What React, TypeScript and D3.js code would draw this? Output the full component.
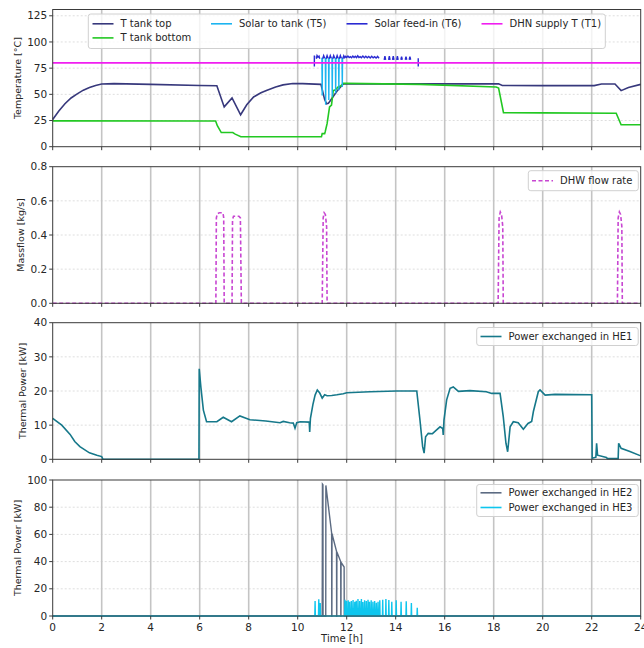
import React from "react";
import * as d3 from "d3";

type Pt = [number, number];

// time axis
const hourTicks = [0, 2, 4, 6, 8, 10, 12, 14, 16, 18, 20, 22, 24];

// panel 1: temperatures [°C]
const tankTop: Pt[] = [
  [0, 26], [0.25, 34], [0.5, 41], [0.75, 46.5], [1.0, 50.5], [1.25, 54], [1.5, 56.5],
  [1.75, 58.5], [2.0, 59.8], [2.5, 60.2], [4, 59.5], [6, 58.5], [6.7, 58.2], [7.0, 38],
  [7.32, 46.5], [7.67, 30.5], [7.92, 40], [8.2, 47.5], [8.5, 51.5], [8.75, 54], [9.1, 57],
  [9.4, 59], [9.8, 60.3], [10.2, 60.2], [10.95, 59.5], [11.1, 45], [11.18, 41], [11.25, 41.5],
  [11.3, 43], [11.45, 48], [11.6, 53], [11.75, 57], [11.86, 60], [12, 60], [15, 60],
  [18.2, 60], [18.35, 58.5], [20, 58.3], [22.1, 58.3], [22.4, 59.8], [22.95, 59.8],
  [23.2, 53.5], [23.5, 56.5], [24, 59.5],
];
const tankBottom: Pt[] = [
  [0, 24.7], [6.65, 24.5], [6.72, 20], [6.88, 13.5], [7.35, 13.5], [7.45, 12], [7.68, 9.5],
  [10.97, 9.5], [11.0, 12.5], [11.1, 12.5], [11.12, 14], [11.2, 22], [11.3, 38], [11.38, 39.8],
  [11.45, 53.5], [11.55, 54.5], [11.65, 57], [11.75, 58], [11.86, 60.5], [12, 60.5],
  [15, 59.5], [18.1, 57], [18.2, 56], [18.4, 32.5], [20, 32.3], [23.0, 32], [23.2, 21], [24, 21],
];
const solarToTank: Pt[][] = [
  [[10.988, 85], [11.0, 49], [11.012, 85]],
  [[11.128, 85], [11.14, 40], [11.152, 85]],
  [[11.258, 85], [11.27, 44.5], [11.282, 85]],
  [[11.398, 85], [11.41, 47.7], [11.422, 85]],
  [[11.538, 85], [11.55, 51], [11.562, 85]],
  [[11.668, 85], [11.68, 54], [11.692, 85]],
  [[11.808, 85], [11.82, 57], [11.832, 85]],
];
const solarFeedIn: Pt[][] = [
  [[10.68, 76.5], [10.68, 87], [10.7, 85]],
  [[10.76, 84], [10.79, 87], [10.83, 85.5], [10.87, 86.5], [10.9, 84]],
  [[11.02, 84], [11.06, 87], [11.1, 84.5]],
  [[11.16, 84], [11.2, 87], [11.24, 84.5]],
  [[11.29, 84], [11.33, 87], [11.37, 84.5]],
  [[11.43, 84], [11.47, 87], [11.51, 84.5]],
  [[11.57, 84], [11.61, 87], [11.65, 84.5]],
  [[11.7, 84], [11.74, 87], [11.78, 84.5]],
  [
    [11.84, 84], [11.88, 86.8], [11.92, 85], [11.96, 86.2], [12.0, 85.2], [12.05, 86.5],
    [12.1, 85.2], [12.15, 86], [12.2, 85], [12.25, 86.5], [12.3, 85.1], [12.35, 86.3],
    [12.4, 85], [12.45, 86.8], [12.5, 85.2], [12.55, 86], [12.6, 85], [12.66, 86.5],
    [12.72, 85], [12.78, 86.4], [12.84, 85], [12.9, 86.2], [12.96, 84.8], [13.02, 86.4],
    [13.08, 84.8], [13.14, 86], [13.2, 84.6], [13.26, 86.2], [13.32, 84.5],
  ],
  [[13.53, 83], [13.56, 86.5], [13.59, 83]],
  [[13.71, 83], [13.74, 86.5], [13.77, 83]],
  [[13.87, 83], [13.9, 86.5], [13.93, 83]],
  [[14.04, 83], [14.07, 86.5], [14.1, 83]],
  [[14.21, 83], [14.24, 86], [14.27, 83]],
  [[14.39, 83], [14.42, 86], [14.45, 83]],
  [[14.55, 83], [14.58, 86], [14.61, 83]],
  [[14.92, 84.5], [14.92, 76.5]],
];
const dhnSupply: Pt[] = [[0, 80], [24, 80]];

// panel 2: DHW mass flow [kg/s]
const dhwFlow: Pt[] = [
  [0, 0], [6.66, 0], [6.68, 0.5], [6.72, 0.525], [6.8, 0.53], [6.95, 0.53], [6.98, 0.5], [7.0, 0],
  [7.32, 0], [7.34, 0.49], [7.38, 0.51], [7.6, 0.51], [7.66, 0.5], [7.7, 0],
  [11.0, 0], [11.04, 0.5], [11.08, 0.53], [11.13, 0.52], [11.18, 0.45], [11.2, 0],
  [18.18, 0], [18.22, 0.5], [18.27, 0.535], [18.32, 0.52], [18.37, 0.45], [18.39, 0],
  [23.05, 0], [23.08, 0.5], [23.13, 0.535], [23.18, 0.52], [23.23, 0.45], [23.25, 0], [24, 0],
];

// panel 3: HE1 power [kW]
const he1Power: Pt[] = [
  [0, 12], [0.37, 10], [0.71, 7.3], [0.9, 5.2], [1.11, 3.7], [1.5, 1.9], [1.8, 1.2], [2.0, 0.8],
  [2.05, 0], [5.97, 0], [5.98, 26.5], [6.05, 21], [6.15, 14.4], [6.28, 11], [6.7, 11],
  [6.96, 12.3], [7.3, 11], [7.64, 12.7], [8.05, 11.6], [8.7, 11.2], [9.28, 10.7], [9.41, 11.1],
  [9.67, 10.7], [9.82, 10.6], [9.89, 9.1], [9.96, 10.7], [10.1, 11], [10.47, 10.9], [10.49, 8],
  [10.52, 12], [10.62, 16], [10.71, 18.8], [10.8, 20.3], [10.9, 19.4], [11.0, 17.9],
  [11.1, 18.9], [11.2, 18.6], [11.39, 18.7], [11.6, 18.9], [11.86, 19.2], [12, 19.5],
  [12.95, 19.8], [14.04, 20], [14.86, 20], [14.99, 11.5], [15.1, 3.7], [15.16, 1.8],
  [15.22, 6.6], [15.33, 7.6], [15.5, 7.5], [15.67, 8.6], [15.81, 9.5], [15.92, 9.0],
  [15.94, 7.1], [15.97, 11.5], [16.08, 17.4], [16.22, 20.8], [16.35, 21.2], [16.56, 19.9],
  [17.03, 20.1], [17.7, 19.8], [17.92, 19.3], [18.26, 19.3], [18.39, 12.5], [18.5, 4.7],
  [18.57, 2.2], [18.67, 9.5], [18.8, 11], [19.0, 10.7], [19.21, 8.8], [19.4, 10.5],
  [19.55, 11.1], [19.62, 14], [19.82, 19.8], [19.89, 20.3], [20.1, 18.8], [20.5, 19],
  [22.0, 18.9], [22.02, 0.3], [22.17, 0.6], [22.2, 4.7], [22.24, 1.2], [22.6, 0.5],
  [22.65, 0.2], [23.08, 0.2], [23.1, 4.7], [23.2, 3.2], [23.56, 2.3], [24, 1.0],
];

// panel 4: HE2 / HE3 power [kW]
const he2Power: Pt[] = [
  [0, 0], [11.0, 0], [11.01, 97], [11.03, 96.5], [11.035, 0], [11.145, 0], [11.15, 96],
  [11.385, 61], [11.39, 0], [11.395, 0], [11.4, 60.5], [11.585, 47.5], [11.59, 0], [11.595, 0],
  [11.6, 47], [11.755, 40], [11.76, 0], [11.765, 0], [11.77, 39.5], [11.895, 36], [11.9, 0],
  [24, 0],
];
const he3Spikes: Pt[] = [
  [10.71, 11], [10.86, 12.3], [10.92, 9.5],
  [11.93, 12], [11.99, 11], [12.06, 11.5], [12.12, 10.5], [12.19, 11], [12.26, 11.8],
  [12.33, 10.5], [12.39, 11.2], [12.46, 12.5], [12.53, 11], [12.6, 12.5], [12.66, 10.2],
  [12.73, 11.5], [12.8, 11], [12.87, 12], [12.93, 10.5], [13.0, 11.5], [13.07, 10.5],
  [13.14, 11], [13.21, 9.8], [13.28, 10.5], [13.35, 11.5],
  [13.47, 12], [13.6, 12.5], [13.72, 11.8], [13.84, 10.5], [14.02, 11.5], [14.22, 10.5],
  [14.43, 10.8], [14.64, 9.5], [14.88, 6],
];

const tempTicks = [0, 25, 50, 75, 100, 125];
const flowTicks = [0, 0.2, 0.4, 0.6, 0.8];
const he1Ticks = [0, 10, 20, 30, 40];
const he23Ticks = [0, 20, 40, 60, 80, 100];

const FONT = "DejaVu Sans, sans-serif";
const X0 = 52.7;
const X1 = 640.7;

const x = d3.scaleLinear().domain([0, 24]).range([X0, X1]);

const he3Power: Pt[] = [[0, 0]];
he3Spikes.forEach(([t, h]) => {
  he3Power.push([t - 0.012, 0], [t, h], [t + 0.012, 0]);
});
he3Power.push([24, 0]);

interface PanelSpec {
  top: number;
  bottom: number;
  yMax: number;
  ticks: number[];
  fmt: (d: number) => string;
  label: string;
  labelX: number;
}

const panels: PanelSpec[] = [
  { top: 9.5, bottom: 146.7, yMax: 131, ticks: tempTicks, fmt: (d) => String(d), label: "Temperature [°C]", labelX: 18 },
  { top: 166.7, bottom: 303.3, yMax: 0.8, ticks: flowTicks, fmt: (d) => d.toFixed(1), label: "Massflow [kg/s]", labelX: 20.5 },
  { top: 322.7, bottom: 459.3, yMax: 40, ticks: he1Ticks, fmt: (d) => String(d), label: "Thermal Power [kW]", labelX: 23 },
  { top: 480, bottom: 616, yMax: 100, ticks: he23Ticks, fmt: (d) => String(d), label: "Thermal Power [kW]", labelX: 18 },
];

const yScale = (p: PanelSpec) => d3.scaleLinear().domain([0, p.yMax]).range([p.bottom, p.top]);

const mkLine = (y: d3.ScaleLinear<number, number>) =>
  d3.line<Pt>().x((d) => x(d[0])).y((d) => y(d[1]));

interface LegendEntry {
  label: string;
  color: string;
  dash?: string;
  hx: number;
  cy: number;
}

const Legend: React.FC<{ x: number; y: number; w: number; h: number; entries: LegendEntry[] }> = ({ x: lx, y: ly, w, h, entries }) => (
  <g>
    <rect x={lx} y={ly} width={w} height={h} rx={2.5} fill="white" fillOpacity={0.8} stroke="#d0d0d0" strokeWidth={1} />
    {entries.map((e) => (
      <g key={e.label}>
        <line x1={e.hx} x2={e.hx + 21} y1={e.cy} y2={e.cy} stroke={e.color} strokeWidth={1.6} strokeDasharray={e.dash} />
        <text x={e.hx + 28} y={e.cy} dy="0.35em" fontSize={10} fontFamily={FONT} fill="#262626">
          {e.label}
        </text>
      </g>
    ))}
  </g>
);

const Axes: React.FC<{ p: PanelSpec; showX: boolean; children?: React.ReactNode }> = ({ p, showX, children }) => {
  const y = yScale(p);
  const cy = (p.top + p.bottom) / 2;
  return (
    <g>
      {/* grid */}
      {p.ticks.slice(1, -1).map((t) => (
        <line key={"h" + t} x1={X0} x2={X1} y1={y(t)} y2={y(t)} stroke="#dedede" strokeWidth={1} strokeDasharray="2,2" />
      ))}
      {p.ticks[p.ticks.length - 1] < p.yMax && (
        <line x1={X0} x2={X1} y1={y(p.ticks[p.ticks.length - 1])} y2={y(p.ticks[p.ticks.length - 1])} stroke="#dedede" strokeWidth={1} strokeDasharray="2,2" />
      )}
      {hourTicks.slice(1, -1).map((t) => (
        <line key={"v" + t} x1={x(t)} x2={x(t)} y1={p.top} y2={p.bottom} stroke="#c4c4c4" strokeWidth={1.6} />
      ))}
      {children}
      {/* frame */}
      <rect x={X0} y={p.top} width={X1 - X0} height={p.bottom - p.top} fill="none" stroke="#3a3a3a" strokeWidth={1} />
      {/* y ticks */}
      {p.ticks.map((t) => (
        <g key={"yt" + t}>
          <line x1={X0 - 3.5} x2={X0} y1={y(t)} y2={y(t)} stroke="#3a3a3a" strokeWidth={1} />
          <text x={X0 - 5.5} y={y(t)} dy="0.35em" textAnchor="end" fontSize={10.5} fontFamily={FONT} fill="#262626">
            {p.fmt(t)}
          </text>
        </g>
      ))}
      {/* x ticks */}
      {hourTicks.map((t) => (
        <g key={"xt" + t}>
          <line x1={x(t)} x2={x(t)} y1={p.bottom} y2={p.bottom + 3.5} stroke="#3a3a3a" strokeWidth={1} />
          {showX && (
            <text x={x(t)} y={p.bottom + 11} textAnchor="middle" dy="0.35em" fontSize={10.5} fontFamily={FONT} fill="#262626">
              {t}
            </text>
          )}
        </g>
      ))}
      <text
        transform={`translate(${p.labelX},${cy}) rotate(-90)`}
        textAnchor="middle"
        dy="0.35em"
        fontSize={9.5}
        fontFamily={FONT}
        fill="#262626"
      >
        {p.label}
      </text>
    </g>
  );
};

const App: React.FC = () => {
  const [p1, p2, p3, p4] = panels;
  const y1 = yScale(p1);
  const y2 = yScale(p2);
  const y3 = yScale(p3);
  const y4 = yScale(p4);
  const l1 = mkLine(y1);
  const l2 = mkLine(y2);
  const l3 = mkLine(y3);
  const l4 = mkLine(y4);

  const c = {
    top: "#37387c",
    bottom: "#22c822",
    t5: "#1cb4f0",
    t6: "#2a2ad2",
    t1: "#f01ef0",
    dhw: "#c846d2",
    he1: "#16788a",
    he2: "#5c6b82",
    he3: "#0ec6ee",
  };

  return (
    <svg width={644} height={648} style={{ position: "absolute", left: 0, top: 0, background: "white" }}>
      <Axes p={p1} showX={false}>
        <path d={l1(tankTop) ?? ""} fill="none" stroke={c.top} strokeWidth={1.6} />
        <path d={l1(tankBottom) ?? ""} fill="none" stroke={c.bottom} strokeWidth={1.6} />
        {solarToTank.map((s, i) => (
          <path key={"t5" + i} d={l1(s) ?? ""} fill="none" stroke={c.t5} strokeWidth={1.4} />
        ))}
        {solarFeedIn.map((s, i) => (
          <path key={"t6" + i} d={l1(s) ?? ""} fill="none" stroke={c.t6} strokeWidth={1.4} />
        ))}
        <path d={l1(dhnSupply) ?? ""} fill="none" stroke={c.t1} strokeWidth={1.6} />
      </Axes>
      <Axes p={p2} showX={false}>
        <path d={l2(dhwFlow) ?? ""} fill="none" stroke={c.dhw} strokeWidth={1.6} strokeDasharray="4,2.5" />
      </Axes>
      <Axes p={p3} showX={false}>
        <path d={l3(he1Power) ?? ""} fill="none" stroke={c.he1} strokeWidth={1.6} />
      </Axes>
      <Axes p={p4} showX={true}>
        <path d={l4(he2Power) ?? ""} fill="none" stroke={c.he2} strokeWidth={1.4} />
        <path d={l4(he3Power) ?? ""} fill="none" stroke={c.he3} strokeWidth={1.4} />
      </Axes>

      <Legend
        x={88.3}
        y={14}
        w={517}
        h={34.5}
        entries={[
          { label: "T tank top", color: c.top, hx: 92.5, cy: 23.8 },
          { label: "T tank bottom", color: c.bottom, hx: 92.5, cy: 37.9 },
          { label: "Solar to tank (T5)", color: c.t5, hx: 211, cy: 23.8 },
          { label: "Solar feed-in (T6)", color: c.t6, hx: 346.5, cy: 23.8 },
          { label: "DHN supply T (T1)", color: c.t1, hx: 481.5, cy: 23.8 },
        ]}
      />
      <Legend x={528.3} y={170.7} w={110} h={20} entries={[{ label: "DHW flow rate", color: c.dhw, dash: "4,2.5", hx: 532, cy: 180.7 }]} />
      <Legend x={476.7} y={327.5} w={161.5} h={18} entries={[{ label: "Power exchanged in HE1", color: c.he1, hx: 480.5, cy: 336.5 }]} />
      <Legend
        x={476.7}
        y={484.5}
        w={161.5}
        h={32}
        entries={[
          { label: "Power exchanged in HE2", color: c.he2, hx: 480.5, cy: 492.8 },
          { label: "Power exchanged in HE3", color: c.he3, hx: 480.5, cy: 507.5 },
        ]}
      />
      <text x={342} y={638.5} textAnchor="middle" dy="0.35em" fontSize={10} fontFamily={FONT} fill="#262626">
        Time [h]
      </text>
    </svg>
  );
};

export default App;
